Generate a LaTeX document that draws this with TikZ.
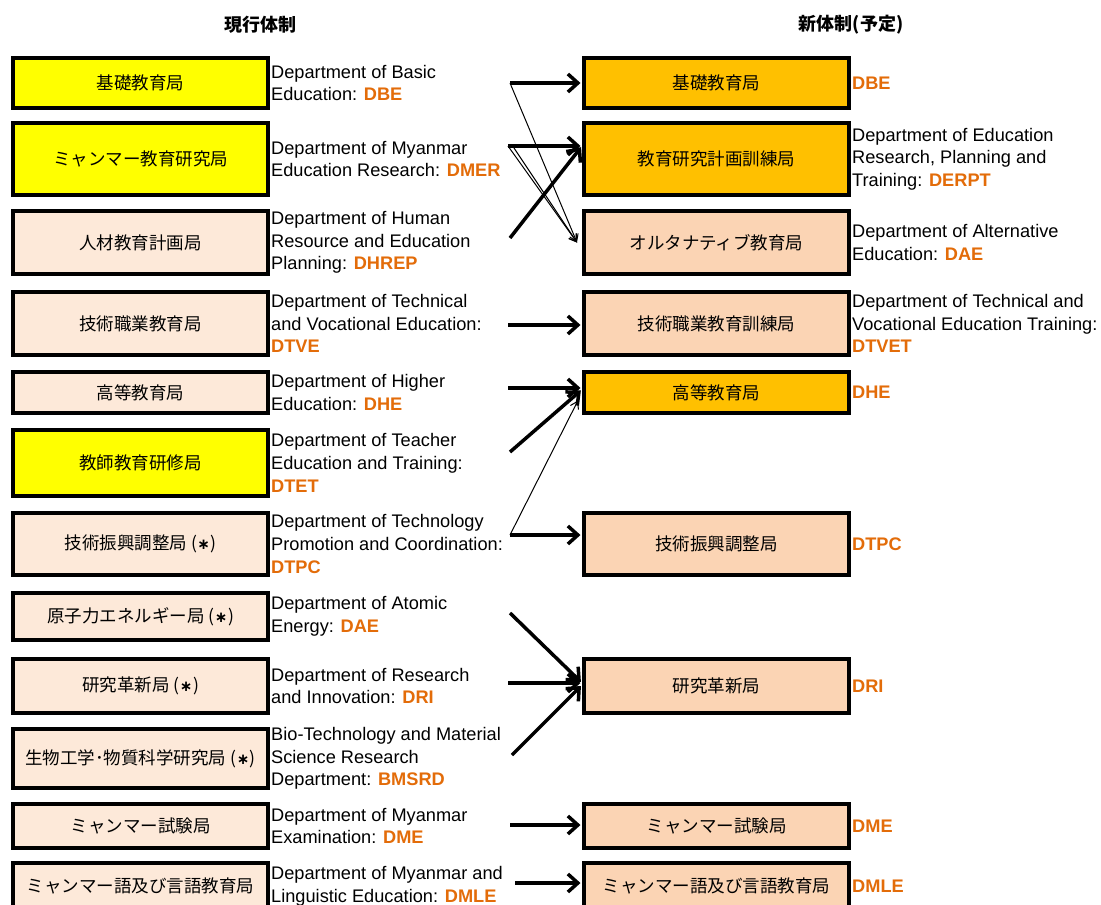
\documentclass[tikz,border=0pt]{standalone}
\usepackage{fontspec}
\setmainfont{Liberation Sans}
\newfontfamily\jp{Noto Sans CJK JP}
\newfontfamily\dv{DejaVu Sans}
\usetikzlibrary{arrows.meta}
\definecolor{ylw}{HTML}{FFFF00}
\definecolor{org}{HTML}{FFC000}
\definecolor{lpeach}{HTML}{FDE9D9}
\definecolor{rpeach}{HTML}{FBD4B4}
\definecolor{abbr}{HTML}{E36C09}
\newcommand\ab[1]{\textbf{\color{abbr}#1}}
\newcommand\astmark{\kern4pt(\kern0.5pt{\dv\bfseries\fontsize{15}{15}\selectfont ∗}\kern0.5pt)}
\begin{document}
\begin{tikzpicture}[x=1pt,y=-1pt,
  lbox/.style={draw=black, line width=4pt, minimum width=255pt, inner sep=0pt,
    font=\jp\fontsize{17.5}{20}\selectfont},
  rbox/.style={draw=black, line width=4pt, minimum width=265pt, inner sep=0pt,
    font=\jp\fontsize{17.5}{20}\selectfont},
  lab/.style={anchor=west, align=left, inner sep=0pt, font=\fontsize{18.2}{22.7}\selectfont},
  hdr/.style={font=\jp\bfseries\fontsize{18}{20}\selectfont, inner sep=0pt},
  thickarr/.style={line width=3.5pt, shorten >=1.5pt, -{Straight Barb[length=10pt,width=18pt]}},
  thinarr/.style={line width=1pt, -{Straight Barb[length=7pt,width=9pt]}}]
\useasboundingbox (0,0) rectangle (1101,905);
\fill[white] (0,0) rectangle (1101,905);

% headers
\node[hdr] (H1) at (260,25) {現行体制};
\node[hdr] (H2) at (851,25) {新体制(予定)};

% left boxes
\node[lbox, fill=ylw, minimum height=50pt] (L1) at (140.5,83) {基礎教育局};
\node[lbox, fill=ylw, minimum height=72pt] (L2) at (140.5,159) {ミャンマー教育研究局};
\node[lbox, fill=lpeach, minimum height=63pt] (L3) at (140.5,242.5) {人材教育計画局};
\node[lbox, fill=lpeach, minimum height=63pt] (L4) at (140.5,323.5) {技術職業教育局};
\node[lbox, fill=lpeach, minimum height=41pt] (L5) at (140.5,392.5) {高等教育局};
\node[lbox, fill=ylw, minimum height=66pt] (L6) at (140.5,463) {教師教育研修局};
\node[lbox, fill=lpeach, minimum height=62pt] (L7) at (140.5,544) {技術振興調整局\astmark};
\node[lbox, fill=lpeach, minimum height=47pt] (L8) at (140.5,616.5) {原子力エネルギー局\astmark};
\node[lbox, fill=lpeach, minimum height=54pt] (L9) at (140.5,686) {研究革新局\astmark};
\node[lbox, fill=lpeach, minimum height=59pt] (L10) at (140.5,758.5) {生物工学･物質科学研究局\astmark};
\node[lbox, fill=lpeach, minimum height=44pt] (L11) at (140.5,826) {ミャンマー試験局};
\node[lbox, fill=lpeach, minimum height=46pt] (L12) at (140.5,886) {ミャンマー語及び言語教育局};

% left labels
\node[lab] (T1) at (271,83) {Department of Basic\\Education: \ab{DBE}};
\node[lab] (T2) at (271,159) {Department of Myanmar\\Education Research: \ab{DMER}};
\node[lab] (T3) at (271,242.5) {Department of Human\\Resource and Education\\Planning: \ab{DHREP}};
\node[lab] (T4) at (271,323.5) {Department of Technical\\and Vocational Education:\\\ab{DTVE}};
\node[lab] (T5) at (271,392.5) {Department of Higher\\Education: \ab{DHE}};
\node[lab] (T6) at (271,463) {Department of Teacher\\Education and Training:\\\ab{DTET}};
\node[lab] (T7) at (271,544) {Department of Technology\\Promotion and Coordination:\\\ab{DTPC}};
\node[lab] (T8) at (271,616.5) {Department of Atomic\\Energy: \ab{DAE}};
\node[lab] (T9) at (271,686) {Department of Research\\and Innovation: \ab{DRI}};
\node[lab] (T10) at (271,758.5) {Bio-Technology and Material\\Science Research\\Department: \ab{BMSRD}};
\node[lab] (T11) at (271,826) {Department of Myanmar\\Examination: \ab{DME}};
\node[lab] (T12) at (271,886) {Department of Myanmar and\\Linguistic Education: \ab{DMLE}};

% right boxes
\node[rbox, fill=org, minimum height=50pt] (R1) at (716.5,83) {基礎教育局};
\node[rbox, fill=org, minimum height=72pt] (R2) at (716.5,159) {教育研究計画訓練局};
\node[rbox, fill=rpeach, minimum height=63pt] (R3) at (716.5,242.5) {オルタナティブ教育局};
\node[rbox, fill=rpeach, minimum height=63pt] (R4) at (716.5,323.5) {技術職業教育訓練局};
\node[rbox, fill=org, minimum height=41pt] (R5) at (716.5,392.5) {高等教育局};
\node[rbox, fill=rpeach, minimum height=62pt] (R6) at (716.5,544) {技術振興調整局};
\node[rbox, fill=rpeach, minimum height=54pt] (R7) at (716.5,686) {研究革新局};
\node[rbox, fill=rpeach, minimum height=44pt] (R8) at (716.5,826) {ミャンマー試験局};
\node[rbox, fill=rpeach, minimum height=46pt] (R9) at (716.5,886) {ミャンマー語及び言語教育局};

% right labels
\node[lab] (U1) at (852,83) {\ab{DBE}};
\node[lab] (U2) at (852,159) {Department of Education\\Research, Planning and\\Training: \ab{DERPT}};
\node[lab] (U3) at (852,242.5) {Department of Alternative\\Education: \ab{DAE}};
\node[lab] (U4) at (852,323.5) {Department of Technical and\\Vocational Education Training:\\\ab{DTVET}};
\node[lab] (U5) at (852,392.5) {\ab{DHE}};
\node[lab] (U6) at (852,544) {\ab{DTPC}};
\node[lab] (U7) at (852,686) {\ab{DRI}};
\node[lab] (U8) at (852,826) {\ab{DME}};
\node[lab] (U9) at (852,886) {\ab{DMLE}};

% connector start points
\coordinate (s1) at (510,83);
\coordinate (s2) at (508,146);
\coordinate (s2b) at (514,148);
\coordinate (s3) at (510,238);
\coordinate (s4) at (508,325);
\coordinate (s5) at (508,388);
\coordinate (s6) at (510,452);
\coordinate (s7) at (510,535);
\coordinate (s8) at (510,613);
\coordinate (s9) at (508,683);
\coordinate (s10) at (512,755);
\coordinate (s11) at (510,825);
\coordinate (s12) at (515,883);

% thin connectors
\draw[thinarr] (s1) -- ([xshift=-5pt]R3.west);
\draw[thinarr] (s2) -- ([xshift=-5pt]R3.west);
\draw[thinarr] (s2b) -- ([xshift=-5pt]R3.west);
\draw[thinarr] (s7) -- ([xshift=-4pt,yshift=-8pt]R5.west);

% thick connectors
\draw[thickarr] (s1) -- (s1 -| R1.west);
\draw[thickarr] (s2) -- (s2 -| R2.west);
\draw[thickarr] (s3) -- (s2 -| R2.west);
\draw[thickarr] (s4) -- (s4 -| R4.west);
\draw[thickarr] (s5) -- (s5 -| R5.west);
\draw[thickarr] (s6) -- ([yshift=-1.5pt]s5 -| R5.west);
\draw[thickarr] (s7) -- (s7 -| R6.west);
\draw[thickarr] (s8) -- (s9 -| R7.west);
\draw[thickarr] (s9) -- (s9 -| R7.west);
\draw[thickarr] (s10) -- ([yshift=-2pt]s9 -| R7.west);
\draw[thickarr] (s11) -- (s11 -| R8.west);
\draw[thickarr] (s12) -- (s12 -| R9.west);
\end{tikzpicture}
\end{document}
